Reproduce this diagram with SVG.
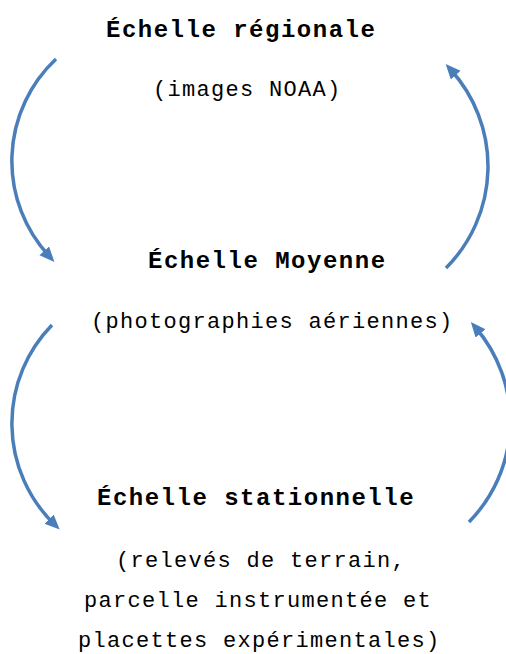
<svg xmlns="http://www.w3.org/2000/svg" width="506" height="654" viewBox="0 0 506 654">
<style>
.t{font-family:"Liberation Mono","Courier New",monospace;font-weight:bold;font-size:24px;letter-spacing:1.5px;fill:#000}
.s{font-family:"Liberation Mono","Courier New",monospace;font-size:22px;letter-spacing:1.3px;fill:#000}
.c{fill:none;stroke:#4A7EBB;stroke-width:3.5;marker-end:url(#ah)}
</style>
<defs>
<marker id="ah" markerUnits="userSpaceOnUse" markerWidth="18" markerHeight="16" refX="7" refY="6.5" orient="auto" viewBox="0 0 18 16">
<path d="M0,0 L15,6.5 L0,13 z" fill="#4A7EBB"/>
</marker>
</defs>
<rect width="506" height="654" fill="#fff"/>
<g id="connectors">
<path class="c" d="M56,59 A140,140 0 0 0 49,256"/>
<path class="c" d="M446,268 A144,144 0 0 0 451,70"/>
<path class="c" d="M52,325 A141,141 0 0 0 54,524"/>
<path class="c" d="M469,522 A144,144 0 0 0 476,328"/>
</g>
<g id="regional">
<text class="t" x="106" y="37">Échelle régionale</text>
<text class="s" x="153" y="96">(images NOAA)</text>
</g>
<g id="moyenne">
<text class="t" x="148" y="268">Échelle Moyenne</text>
<text class="s" x="91" y="328">(photographies aériennes)</text>
</g>
<g id="stationnelle">
<text class="t" x="97" y="505">Échelle stationnelle</text>
<text class="s" x="116" y="567">(relevés de terrain,</text>
<text class="s" x="84" y="607">parcelle instrumentée et</text>
<text class="s" x="78" y="647">placettes expérimentales)</text>
</g>
</svg>
